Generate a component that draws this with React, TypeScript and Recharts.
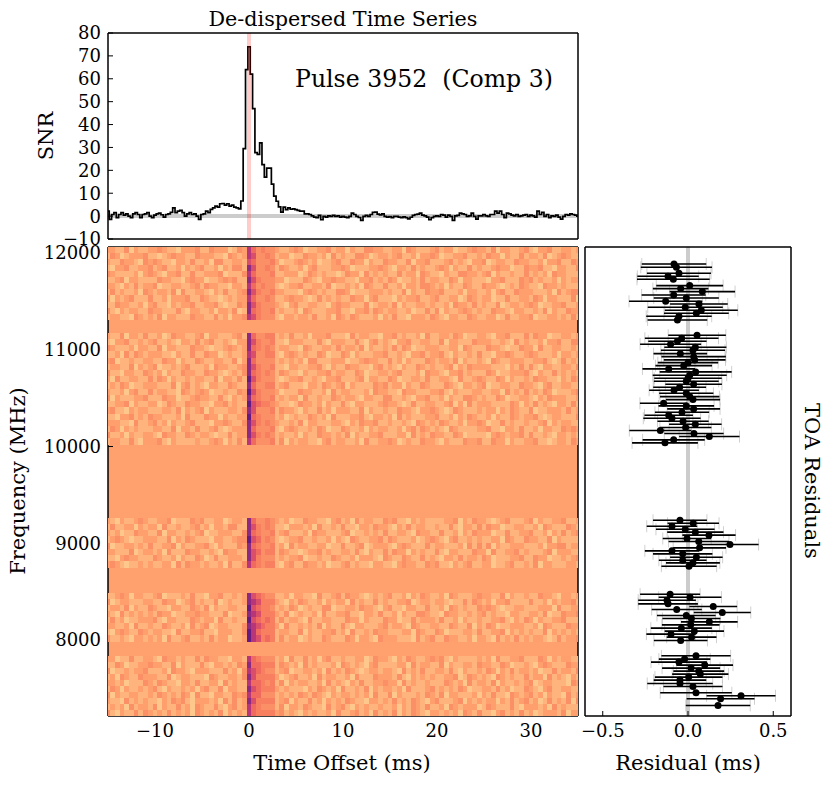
import { LineChart, Line, ScatterChart, Scatter, ErrorBar, XAxis, YAxis, ReferenceLine, ReferenceArea } from 'recharts'

const W = 831
const H = 785

// snr per 0.25 ms bin
const snrValues = [
  2.2, -1.4, 0.7, 1.5, -0.7, 0.7, 1.5, 0.4, 1.0, 0, -0.7, 1, 1.5, 0.7, -0.7, 0.7, 1, 1.5, 0, -0.7,
  0.4, 1, 1.3, 0.6, -0.4, 0.7, 1, 1.6, 3.6, 1.5, 2.2, 2.5, 1.5, 0, 1, 1.5, 0.7, 1, 0, -1.4,
  0.7, 1, 2.2, 1.5, 2.9, 3.6, 4.4, 3.9, 5.4, 5.5, 4.8, 5.4, 4.4, 4.8, 3.9, 3.6, 3.2, 6.6, 29.5, 64,
  74, 62, 47, 27.7, 27, 32, 22.5, 17, 21, 21, 14, 8.7, 6.5, 4, 1.7, 3.9, 2.8, 3.6, 3, 3.2,
  2.8, 2.5, 2.2, 2.2, 1, 1, 0.7, 0.1, -0.4, -0.7, 0.3, -1.6, -0.1, -0.4, 0.1, -0.1, 0.3, -0.1, 0.1, -0.4,
  -0.1, -0.4, -0.7, -0.1, 1.3, 0.7, -0.1, -0.6, -1.9, -0.1, 0.3, -0.1, 0.7, 1.6, 1.7, 0.9, 0.5, 1, -0.1, -0.4,
  -0.2, -0.7, -0.1, -0.1, -0.4, -0.7, -0.3, -0.7, -1.2, -0.5, 0.3, 0.7, 0.9,
  1.3, 0.4, 0.1, -0.4, -1.6, -0.7, -0.1, 0.1, -0.1, 0.7, 0.4, -0.4, 0.4, -0.1, -1.9, 0.1, 0.3, 1.3, 1, 0.7,
  -0.1, 0.1, 1.3, -0.1, -1.3, 0.1, 0.1, 0.7, 0.1, -0.1, 0.7, 0.7, 2.2, 1.3, 2.2, 0.7, -0.7, 1.3, 1, 0.4,
  0.1, 0.7, -0.1, 0.1, 0.4, 0.7, -0.1, 0.4, 0.1, -0.4, 2.2, 0.7, 1.6, -0.1, 0.7, -0.7, 0.1, -0.1, 0.4, -0.4,
  -1.3, -0.1, 0.7, 0.4, 1, 0.7, 0.4, -0.4,
]

// residuals per channel (ms), with the channel frequency and the toa error
const residualFreqs = [
  11886, 11852, 11790, 11759, 11728, 11663, 11632, 11601, 11566, 11535, 11501, 11473, 11439, 11408, 11377, 11346, 11308,
  11150, 11119, 11088, 11057, 11026, 10995, 10960, 10929, 10895, 10867, 10836, 10802, 10771, 10736, 10705, 10674, 10643,
  10612, 10581, 10550, 10516, 10485, 10447, 10420, 10389, 10354, 10323, 10292, 10261, 10230, 10196, 10165, 10134, 10103,
  10069, 10038,
  9238, 9207, 9176, 9145, 9115, 9084, 9049, 9018, 8987, 8953, 8922, 8891, 8856, 8825, 8798, 8763,
  8474, 8443, 8412, 8374, 8347, 8316, 8285, 8254, 8223, 8188, 8157, 8123, 8092, 8061, 8030, 7996,
  7837, 7803, 7772, 7741, 7710, 7679, 7648, 7617, 7586, 7551, 7520, 7455, 7424, 7393, 7324,
]
const residualValues = [
  -0.082, -0.068, -0.053, -0.117, -0.086, 0.01, -0.043, 0.084, -0.084, -0.01, -0.131, 0.064, -0.016, 0.078, 0.049, -0.053, -0.062,
  0.053, -0.037, -0.062, -0.102, 0.043, 0.029, -0.045, 0.033, 0.039, 0, -0.025, -0.113, 0.045, 0.01, 0, -0.01,
  0.033, -0.049, -0.082, -0.01, 0.01, 0.029, -0.143, -0.01, 0.033, -0.035, -0.113, -0.094, -0.029, 0.043, -0.014, -0.162, 0.035, 0.125,
  -0.084, -0.135,
  -0.047, 0.031, -0.094, -0.016, 0.043, 0.123, -0.006, 0.063, 0.246, 0.068, -0.094, -0.031, 0.049, -0.031, 0.029, 0.006,
  -0.105, 0.012, -0.123, -0.117, 0.148, -0.066, 0.201, -0.01, 0.02, 0.125, 0.016, -0.039, 0.037, -0.1, 0.021, -0.043,
  0.047, -0.02, -0.053, 0.098, 0.018, 0.063, 0.072, 0.004, -0.047, -0.047, 0.029, 0.047, 0.311, 0.191, 0.176,
]
const residualErrors = [
  0.189, 0.209, 0.188, 0.18, 0.213, 0.196, 0.163, 0.192, 0.188, 0.191, 0.215, 0.169, 0.22, 0.214, 0.19, 0.192, 0.175,
  0.169, 0.216, 0.171, 0.179, 0.182, 0.188, 0.157, 0.189, 0.181, 0.177, 0.166, 0.154, 0.211, 0.217, 0.198, 0.19,
  0.166, 0.155, 0.146, 0.159, 0.174, 0.159, 0.139, 0.163, 0.155, 0.159, 0.142, 0.168, 0.15, 0.154, 0.151, 0.182, 0.174, 0.177,
  0.182, 0.193,
  0.158, 0.151, 0.148, 0.172, 0.165, 0.156, 0.142, 0.177, 0.168, 0.155, 0.159, 0.174, 0.154, 0.14, 0.158, 0.162,
  0.176, 0.184, 0.169, 0.175, 0.14, 0.147, 0.167, 0.172, 0.17, 0.166, 0.169, 0.179, 0.174, 0.144, 0.146, 0.157,
  0.203, 0.151, 0.164, 0.166, 0.17, 0.149, 0.165, 0.198, 0.154, 0.192, 0.173, 0.21, 0.202, 0.199, 0.189,
]

// waterfall channels, grouped in the bands left after masking
const waterfallFreqs = [
  12030, 11967, 11904, 11841, 11778, 11716, 11653, 11590, 11527, 11464, 11402, 11339,
  11142, 11078, 11014, 10949, 10885, 10821, 10757, 10692, 10628, 10564, 10500, 10435, 10371, 10307, 10242, 10178, 10114, 10050,
  9230, 9165, 9101, 9036, 8972, 8907, 8843, 8778,
  8457, 8394, 8330, 8267, 8204, 8140, 8077, 8014,
  7806, 7744, 7682, 7620, 7558, 7496, 7434, 7372, 7310, 7248,
]

// colour level of each 0.5 ms cell, one string per channel. the burst columns follow the
// picture, the speckle around it is only an estimate by eye, not a cell by cell reading
const waterfallRows = [
  '2211302112 2321102223 1132220132 7534332112 3201122312 2021133221 1220321112 3122011232 2130221123 1022311221 2',
  '1320122231 1012322113 2221103212 7633431220 1132212031 2113320122 1231120223 2011223112 1322021131 2213012321 1',
  '2113221032 3211022131 1203311221 6533342011 2321201123 1132202113 2211302231 1123121022 3012211322 1120223113 2',
  '1022311223 1231120212 3112021331 8633431321 1202311122 3201112232 1022131211 2320211312 1123220113 2231102211 3',
  '3211112023 2102231131 1222301113 7533341122 2013212110 1322031212 1131220321 1021133221 2302112113 1212032211 1',
  '1123022111 1322110232 2011232311 8643332201 1132102232 2110223121 3201121312 2113202211 1022311132 3121120212 2',
  '2210213122 3011221123 1322110221 7534331012 2311221301 1212032113 1120221332 1202113211 3221012132 1103221211 1',
  '1312112032 1221303112 2102131123 8643342211 1023212113 3201112221 2113021132 2311120221 1202311322 2111203123 3',
  '2021231113 1120222311 3211012122 7533431123 2210131212 1132202311 1021223112 3112201321 2201131122 1320221113 0',
  '1132211202 3110212231 1223101132 8643332102 3112211023 2211130122 1302112212 1120322131 2113012212 3201122311 2',
  '3102122113 2211131022 1120221301 8543341211 2032111223 1102231321 2211201131 3021123212 1132210221 1213021132 2',
  '1221103212 1302211132 2113120223 7643331022 1221311203 2132111202 1311022213 2102211321 1220131122 3011221213 1',

  '2113022131 1201322112 3022111231 8533441213 1120222311 1031221102 2312112031 1221320112 2102231113 1322011221 2',
  '1022311212 3112102213 1231121022 8643341102 2211131022 2113102312 1022311221 1302211132 2211210312 1120223113 3',
  '3211120221 1302211132 2101123212 8543431221 1032112213 1221302112 1313201122 2112203211 1322101132 2031122112 1',
  '1120313212 2211021131 1322012112 7633441023 2121132011 3202111223 1121022312 2310211213 1102232112 3211120221 2',
  '2301121122 1132202113 2112211302 8533331212 1203311122 2011232211 3120211132 1221302112 1032112221 1223101312 1',
  '1221130212 3011212311 1203221123 8643341102 2112231021 1322110231 2102113212 1123021322 2211102131 3102211221 3',
  '3110221132 1202113221 1322101213 8543431321 1021122312 2113201122 1231112032 2102231211 1320112223 1021131212 1',
  '2031122113 1320211212 2113022131 9643331012 2311210223 1112302211 3201122131 1221031123 2113202112 1322110213 2',
  '1213201122 2111302312 1022113211 8533441231 1102213212 3021111323 1220211321 1132102212 3011221132 2102311221 1',
  '2112023113 1221103212 3201121132 9643332011 1322112031 2211120322 1103221112 2310211122 1122031213 1213201112 3',
  '3021112231 1132201123 2211310212 8543341212 2031121132 1221022113 3112102231 1202113321 2113201122 1021322211 2',
  '1122302112 2013211322 1102231211 9654432110 1322120211 3102211123 2210131122 1123020312 2211113202 1312102213 1',
  '2311021221 1122130212 3021112213 8633341322 1021131202 2211302112 1132210223 2101321112 1220213211 3011222131 2',
  '1102231213 2211120311 1322021122 9543331201 2113212031 1122310221 2031211122 3112021321 1202113212 2310122111 3',
  '2221103112 3120211231 1102232113 8643432112 1302211122 1021322311 2112103212 1321120223 2011312112 1123021221 1',
  '1320212111 2211302213 1123101222 8533341023 2112132011 3211202122 1120231321 2103211112 2311022131 1202211323 2',
  '3112021122 1032211321 2210113122 8643431211 2021132212 1302112231 1122031213 2211320111 1023212231 3112102212 1',
  '1221131022 2310211112 1123202131 7533341302 1221102312 2112031122 3201211322 1021113223 1132202112 2311012213 2',

  '2102112321 1223011132 3112201221 8533432120 1132211023 1203122113 2311021211 1122302132 2101231112 3021122311 2',
  '1311220212 2031121123 1202213311 8643431102 2212031121 3110221322 1021312211 2113102213 1322011221 1203211132 1',
  '2120113221 1302211212 3011222113 8543341231 1120322111 2301121213 1122103221 1311202132 2201131122 3112021312 3',
  '1232101122 2113021321 1102211233 9653431012 2311211202 1032112231 3211120123 2102311212 1122032113 2211302111 1',
  '3011221213 1122302112 2310211132 8543341203 1221122011 3112301222 1023211131 2211120313 1302112221 1120223312 2',
  '2211130122 1203111322 1121032211 8653441321 1012231211 2213102113 1322021211 3102211132 2031122312 1112302221 1',
  '1102322111 3211202113 2013112221 8643331212 2301121132 1120222103 2113211312 1022131221 3201112231 1322011212 3',
  '2321011212 1122031322 1211203113 7543441023 1132212011 2312110221 1023221132 3110212311 2201123112 1302211122 1',

  '1123202211 2301112131 1022311212 8654331120 2211031123 1322101212 3112021321 1203211123 2211302112 1132210221 2',
  '3012211122 1132201231 2113012112 8764442102 1321120212 2031211312 1122301221 2210113132 1202231111 3112021223 1',
  '1221302113 2110221132 1302112211 9654431213 2012113301 1221322102 3110221131 1203212113 2321011221 1122203112 2',
  '2103121212 1322011223 2211130112 8764442130 1211203112 2311022131 1202113321 1032211212 3121102211 2213011322 3',
  '1312011222 3102211132 1220311211 9654541312 2103112211 1322021113 2201131222 1311202112 1122310213 2021122311 1',
  '2211203112 1132112031 2301221113 8765442031 1212130211 3102211123 1221032112 2113211302 1320112221 1203211132 2',
  '1023211321 2211031122 3110222113 9754441221 1302112231 2031121322 1112203211 3201112213 1122302121 2113021212 1',
  '3112102212 1203112311 2131220112 9764541312 2012113211 1320221032 2211103123 1132211202 2103121312 1221013122 3',

  '2201131122 1032212113 1322110221 7543331203 1131202311 2112201322 1021321123 2310211112 1203112231 1132021221 1',
  '1132011223 2211302111 3102212132 8554441321 2031211120 3212102311 1122031221 1302112213 2211320112 1023211132 2',
  '3011212231 1120322102 2211131203 7654331230 1122120312 1321012212 2103121311 2213102112 1320213122 1201131221 3',
  '1203211322 2113012211 1032112213 8644442012 3112031221 1203111322 2131021212 1122301321 2103212113 1220312102 1',
  '2212011132 1321102213 1122031211 7554341302 1221120312 1021311223 2203121121 1132120312 2130211212 3012211103 2',
  '1320211212 3102112120 2311302211 8654442121 1102132120 3112130212 2120311123 1212132011 2213120113 2102311221 1',
  '3021122112 1321213203 1102211323 7553331212 1321321021 2212120311 3021112132 1302211120 2131103212 3120211031 2',
  '2110312121 1021323102 2212031312 8644441230 2113120212 1321102212 1312132102 3111230212 1220213123 1201312130 3',
  '1212031221 3021131203 2113102312 7543331302 2132110312 3102121121 1202132131 1203212220 1321113102 2212031211 1',
  '3102113132 1213121203 2121302121 7544442312 1021211203 1123120312 1302132102 2121203213 1102312131 2012221302 2',
]

const snrTicks = [-10, 0, 10, 20, 30, 40, 50, 60, 70, 80]
const timeTicks = [-10, 0, 10, 20, 30]
const freqTicks = [8000, 9000, 10000, 11000, 12000]
const residualTicks = [-0.5, 0, 0.5]
const residualMinorTicks = [-0.6, -0.4, -0.3, -0.2, -0.1, 0.1, 0.2, 0.3, 0.4, 0.6]

// magma, light to dark
const LEVEL_COLORS = ['#FEC88C', '#FEB47C', '#FE9F6D', '#FB9066', '#F87F60', '#F06A5F', '#D94F6B', '#B63679', '#8C2981', '#641A80']
const MASK_COLOR = '#FEA16F'
const SERIF = '"DejaVu Serif", serif'

const snrData = snrValues.map((snr, i) => ({ t: -15.12 + 0.25 * i, snr }))
const residualData = residualValues.map((res, i) => ({ res, freq: residualFreqs[i], err: residualErrors[i] }))
const cellData = waterfallRows.flatMap((row, r) =>
  row.replace(/ /g, '').split('').map((c, k) => ({ t: -15 + 0.5 * k, f: waterfallFreqs[r], level: Number(c) }))
)

const tickStyle = { fontFamily: SERIF, fontSize: 18, fill: '#000' }
const axisLine = { stroke: '#000', strokeWidth: 1.5 }
const tickLine = { stroke: '#000', strokeWidth: 1 }

function WaterfallCell(props: any) {
  const { cx, cy, payload } = props
  return <rect x={cx - 2.5} y={cy - 3.3} width={5} height={6.6} fill={LEVEL_COLORS[payload.level]} shapeRendering="crispEdges" />
}

function ResidualDot(props: any) {
  return <circle cx={props.cx} cy={props.cy} r={3.5} fill="#000" />
}

const fmtTick = (v: number) => String(v).replace('-', '\u2212')
const fmtResidual = (v: number) => v.toFixed(1).replace('-', '\u2212')

const layer: React.CSSProperties = { position: 'absolute', left: 0, top: 0 }
const label = { fontFamily: SERIF, fontSize: 21, fill: '#000', textAnchor: 'middle' as const }

const timeDomain = [-15, 35]
const freqDomain = [7215, 12062]
const resDomain = [-0.604, 0.604]

export default function App() {
  return (
    <div style={{ position: 'absolute', left: 0, top: 0, width: W, height: H, background: '#fff' }}>
      <div style={layer}>
        <LineChart width={W} height={H} data={snrData} margin={{ top: 32, left: 107, right: 252, bottom: 545 }}>
          <XAxis xAxisId="b" dataKey="t" type="number" height={1} domain={timeDomain} ticks={timeTicks} interval={0} allowDataOverflow axisLine={axisLine} tickLine={tickLine} tickSize={-5} tick={false} />
          <XAxis xAxisId="t" orientation="top" type="number" height={1} domain={timeDomain} ticks={timeTicks} interval={0} allowDataOverflow axisLine={axisLine} tickLine={tickLine} tickSize={-5} tick={false} />
          <YAxis yAxisId="l" type="number" width={1} domain={[-10, 80]} ticks={snrTicks} interval={0} allowDataOverflow axisLine={axisLine} tickLine={tickLine} tickSize={-5} tickMargin={12} tick={tickStyle} tickFormatter={fmtTick} />
          <YAxis yAxisId="r" orientation="right" type="number" width={1} domain={[-10, 80]} ticks={snrTicks} interval={0} allowDataOverflow axisLine={axisLine} tickLine={tickLine} tickSize={-5} tick={false} />
          <ReferenceLine xAxisId="b" yAxisId="l" y={0} stroke="#000" strokeOpacity={0.2} strokeWidth={4} />
          <Line xAxisId="b" yAxisId="l" dataKey="snr" type="stepAfter" stroke="#000" strokeWidth={1.7} dot={false} isAnimationActive={false} />
          <ReferenceLine xAxisId="b" yAxisId="l" x={0} stroke="#f00" strokeOpacity={0.2} strokeWidth={4} />
        </LineChart>
      </div>
      <div style={layer}>
        <ScatterChart width={W} height={H} margin={{ top: 246, left: 107, right: 252, bottom: 68 }}>
          <ReferenceArea xAxisId="b" yAxisId="l" x1={-15} x2={35} y1={7215} y2={12062} fill={MASK_COLOR} fillOpacity={1} stroke="none" />
          <Scatter xAxisId="b" yAxisId="l" data={cellData} shape={WaterfallCell} isAnimationActive={false} />
          <XAxis xAxisId="b" dataKey="t" type="number" height={1} domain={timeDomain} ticks={timeTicks} interval={0} allowDataOverflow axisLine={axisLine} tickLine={tickLine} tickSize={-5} tickMargin={13} tick={tickStyle} tickFormatter={fmtTick} />
          <XAxis xAxisId="t" orientation="top" type="number" height={1} domain={timeDomain} ticks={timeTicks} interval={0} allowDataOverflow axisLine={axisLine} tickLine={tickLine} tickSize={-5} tick={false} />
          <YAxis yAxisId="l" dataKey="f" type="number" width={1} domain={freqDomain} ticks={freqTicks} interval={0} allowDataOverflow axisLine={axisLine} tickLine={tickLine} tickSize={-5} tickMargin={12} tick={tickStyle} tickFormatter={fmtTick} />
          <YAxis yAxisId="r" orientation="right" type="number" width={1} domain={freqDomain} ticks={freqTicks} interval={0} allowDataOverflow axisLine={axisLine} tickLine={tickLine} tickSize={-5} tick={false} />
        </ScatterChart>
      </div>
      <div style={layer}>
        <ScatterChart width={W} height={H} margin={{ top: 245, left: 584, right: 39, bottom: 67 }}>
          <ReferenceLine xAxisId="b" yAxisId="l" x={0} stroke="#000" strokeOpacity={0.2} strokeWidth={4} />
          <Scatter xAxisId="b" yAxisId="l" data={residualData} shape={ResidualDot} isAnimationActive={false}>
            <ErrorBar dataKey="err" direction="x" width={6} stroke="#bbb" strokeWidth={0.7} isAnimationActive={false} />
            <ErrorBar dataKey="err" direction="x" width={0} stroke="#000" strokeWidth={1.6} isAnimationActive={false} />
          </Scatter>
          <XAxis xAxisId="b" dataKey="res" type="number" height={1} domain={resDomain} ticks={residualTicks} interval={0} allowDataOverflow axisLine={axisLine} tickLine={tickLine} tickSize={-5} tickMargin={13} tick={tickStyle} tickFormatter={fmtResidual} />
          <XAxis xAxisId="bm" type="number" height={1} domain={resDomain} ticks={residualMinorTicks} interval={0} allowDataOverflow axisLine={false} tickLine={tickLine} tickSize={-3.5} tick={false} />
          <XAxis xAxisId="t" orientation="top" type="number" height={1} domain={resDomain} ticks={residualTicks} interval={0} allowDataOverflow axisLine={axisLine} tickLine={tickLine} tickSize={-5} tick={false} />
          <XAxis xAxisId="tm" orientation="top" type="number" height={1} domain={resDomain} ticks={residualMinorTicks} interval={0} allowDataOverflow axisLine={false} tickLine={tickLine} tickSize={-3.5} tick={false} />
          <YAxis yAxisId="l" dataKey="freq" type="number" width={1} domain={freqDomain} ticks={freqTicks} interval={0} allowDataOverflow axisLine={axisLine} tickLine={tickLine} tickSize={-5} tick={false} />
          <YAxis yAxisId="r" orientation="right" type="number" width={1} domain={freqDomain} ticks={freqTicks} interval={0} allowDataOverflow axisLine={axisLine} tickLine={tickLine} tickSize={-5} tick={false} />
        </ScatterChart>
      </div>
      <svg width={W} height={H} style={{ ...layer, pointerEvents: 'none' }}>
        <text x={343} y={26} {...label} fontSize={20.7}>De-dispersed Time Series</text>
        <text x={295} y={87} fontFamily={SERIF} fontSize={23.6} fill="#000" style={{ whiteSpace: 'pre' }}>Pulse 3952  (Comp 3)</text>
        <text x={342} y={770} {...label}>Time Offset (ms)</text>
        <text x={688} y={770} {...label}>Residual (ms)</text>
        <text transform="translate(53,136) rotate(-90)" {...label}>SNR</text>
        <text transform="translate(25,481) rotate(-90)" {...label}>Frequency (MHz)</text>
        <text transform="translate(805,481) rotate(90)" {...label}>TOA Residuals</text>
      </svg>
    </div>
  )
}
